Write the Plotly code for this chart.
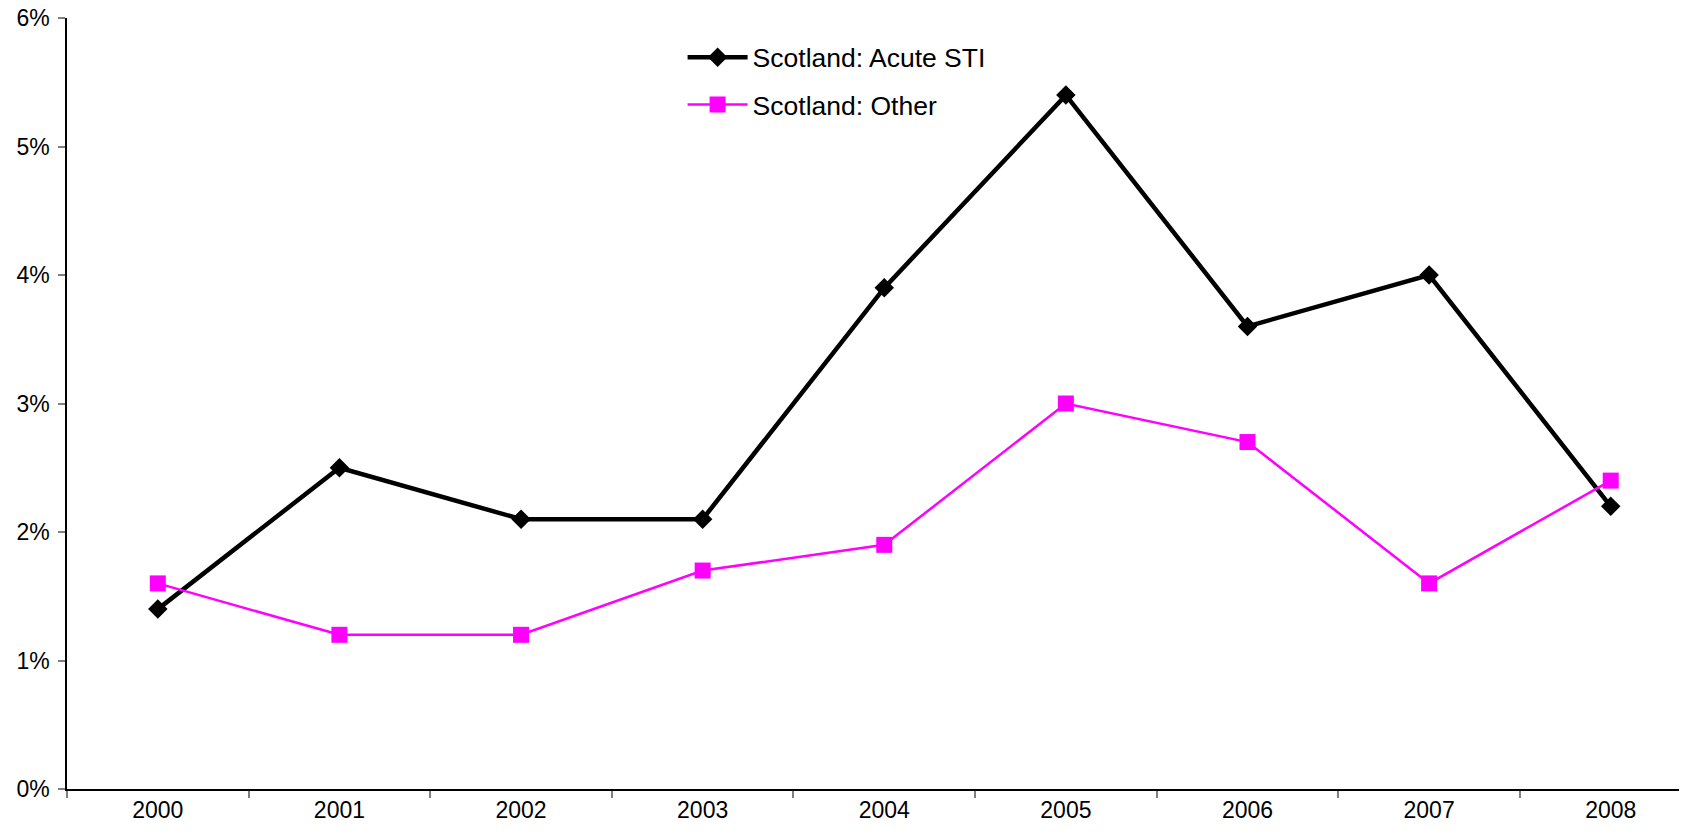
import plotly.graph_objects as go

years = ["2000", "2001", "2002", "2003", "2004", "2005", "2006", "2007", "2008"]
acute_sti = [1.4, 2.5, 2.1, 2.1, 3.9, 5.4, 3.6, 4.0, 2.2]
other = [1.6, 1.2, 1.2, 1.7, 1.9, 3.0, 2.7, 1.6, 2.4]
y_ticks = [0, 1, 2, 3, 4, 5, 6]
y_tick_labels = ["0%", "1%", "2%", "3%", "4%", "5%", "6%"]

fig = go.Figure()
fig.add_trace(go.Scatter(
    x=years, y=acute_sti, name="Scotland: Acute STI", mode="lines+markers",
    line=dict(color="#000000", width=4.5),
    marker=dict(symbol="diamond", size=15, color="#000000"),
    legendgroup="a",
))
fig.add_trace(go.Scatter(
    x=years, y=other, name="Scotland: Other", mode="lines+markers",
    line=dict(color="#FF00FF", width=2.5),
    marker=dict(symbol="square", size=16, color="#FF00FF"),
    legendgroup="b",
))

fig.update_layout(
    width=1679, height=827,
    margin=dict(l=59, r=0, t=10, b=46),
    paper_bgcolor="white", plot_bgcolor="white",
    font=dict(family="Liberation Sans, Arial, sans-serif", color="black", size=23),
    showlegend=True,
    legend=dict(
        x=0.380, y=0.980, xanchor="left", yanchor="top",
        font=dict(size=26.5), itemwidth=60, tracegroupgap=10,
        bgcolor="rgba(0,0,0,0)",
    ),
    xaxis=dict(
        type="category", range=[-0.5, 8.42], tickson="boundaries",
        ticks="outside", ticklen=7, tickcolor="#808080", tickwidth=1.5,
        showline=True, linecolor="black", linewidth=1.5,
        showgrid=False, zeroline=False, fixedrange=True, automargin=False,
    ),
    yaxis=dict(
        range=[0, 6], tickvals=y_ticks, ticktext=y_tick_labels,
        ticks="outside", ticklen=7, tickcolor="#808080", tickwidth=1.5,
        showline=True, linecolor="black", linewidth=1.5,
        showgrid=False, zeroline=False, fixedrange=True,
        ticklabelstandoff=4, ticklabeloverflow="allow", automargin=False,
    ),
)

fig.write_html("out.html")
